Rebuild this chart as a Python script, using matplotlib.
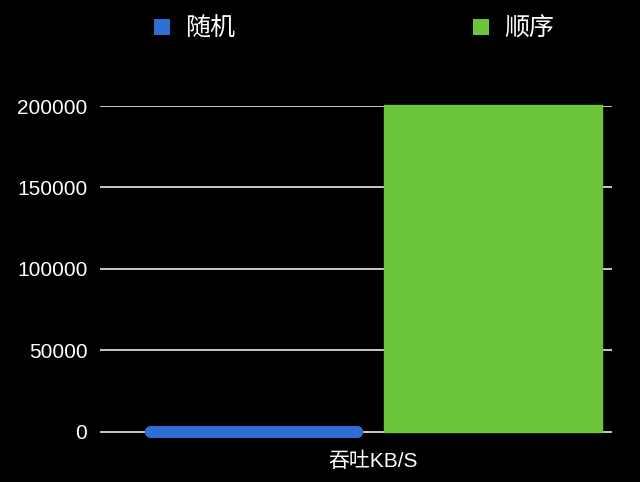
import matplotlib.pyplot as plt
import numpy as np

plt.rcParams['font.family'] = ['Liberation Sans', 'Noto Sans CJK SC']

categories = ['吞吐KB/S']
series = ['随机', '顺序']
values = {'随机': [600], '顺序': [200800]}
colors = {'随机': '#2f6ed2', '顺序': '#6cc43a'}
yticks = [0, 50000, 100000, 150000, 200000]

fig = plt.figure(figsize=(6.4, 4.82), dpi=100, facecolor='black')
ax = fig.add_axes([0.156, 0.077, 0.80, 0.703], facecolor='black')

x = np.arange(len(categories))
offsets = [-0.225, 0.225]
widths = [0.39, 0.41]
edge = [8, 1]
handles = []
for name, off, w, lw in zip(series, offsets, widths, edge):
    b = ax.bar(x + off, values[name], w, color=colors[name],
               edgecolor=colors[name], linewidth=lw,
               joinstyle='round', label=name, clip_on=False, zorder=3)
    handles.append(b)

ax.set_ylim(-8000, 200000)
ax.set_xlim(-0.515, 0.449)
ax.set_yticks(yticks)
ax.set_yticklabels([str(v) for v in yticks], color='white', fontsize=15)
ax.tick_params(axis='y', length=0, pad=9)
ax.set_xticks(x)
ax.set_xticklabels(categories, color='white', fontsize=15)
ax.tick_params(axis='x', length=0, pad=5)
for s in ax.spines.values():
    s.set_visible(False)
ax.grid(axis='y', color='#d8d8d8', linewidth=1.3, zorder=1)
ax.set_axisbelow(True)

leg = fig.legend(handles=handles, labels=series, loc='center', ncol=2,
                 bbox_to_anchor=(0.553, 0.94), frameon=False, fontsize=18,
                 labelcolor='white', columnspacing=9.5, handlelength=0.65,
                 handleheight=0.65, handletextpad=0.6)
for h in leg.legend_handles:
    h.set_linewidth(0)

fig.savefig('out.png', dpi=100, facecolor='black')
